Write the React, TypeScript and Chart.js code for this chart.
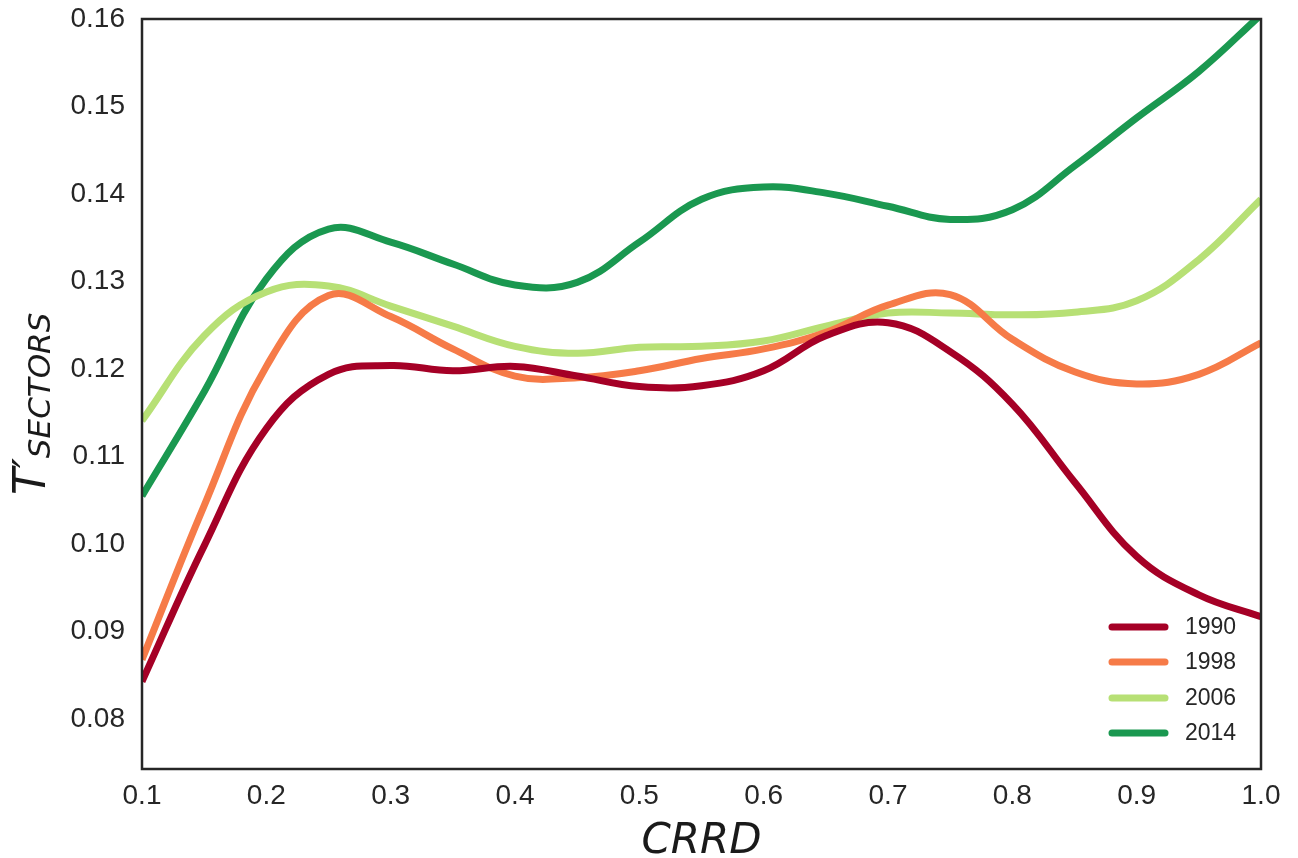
import React, { useEffect, useRef } from "react";
import { Chart, registerables } from "chart.js";

Chart.register(...registerables);

// CRRD sample positions shared by all series
const crrd = [0.1, 0.15, 0.2, 0.25, 0.3, 0.35, 0.4, 0.45, 0.5, 0.55, 0.6, 0.65, 0.7, 0.75, 0.8, 0.85, 0.9, 0.95, 1.0];

// T'_SECTORS per year
const t1990 = [0.0843, 0.0998, 0.1132, 0.1194, 0.1204, 0.1198, 0.1203, 0.1192, 0.118, 0.1181, 0.1198, 0.1238, 0.1253, 0.122, 0.116, 0.1071, 0.0986, 0.0942, 0.0917];
const t1998 = [0.0868, 0.1044, 0.1203, 0.1284, 0.126, 0.1223, 0.1192, 0.119, 0.1198, 0.1212, 0.1223, 0.1242, 0.1273, 0.1285, 0.1234, 0.1197, 0.1183, 0.1194, 0.123];
const t2006 = [0.1141, 0.1238, 0.1288, 0.1295, 0.1272, 0.1249, 0.1226, 0.1218, 0.1225, 0.1226, 0.1232, 0.1249, 0.1264, 0.1264, 0.1262, 0.1265, 0.1278, 0.1325, 0.1394];
const t2014 = [0.1055, 0.1174, 0.1303, 0.136, 0.1345, 0.132, 0.1296, 0.1299, 0.1345, 0.1394, 0.1408, 0.1401, 0.1386, 0.1371, 0.1382, 0.1432, 0.1487, 0.154, 0.1605];

const seriesLabels = ["1990", "1998", "2006", "2014"];
const seriesColors = ["#a50026", "#f67b48", "#b7e075", "#1a9850"];

const xTickValues = [0.1, 0.2, 0.3, 0.4, 0.5, 0.6, 0.7, 0.8, 0.9, 1.0];
const yTickValues = [0.08, 0.09, 0.1, 0.11, 0.12, 0.13, 0.14, 0.15, 0.16];

const TICK_FONT = "'Liberation Sans', Arial, sans-serif";
const MATH_FONT = "'DejaVu Sans', sans-serif";
const TEXT_COLOR = "#262626";

const toPoints = (ys: number[]) => crrd.map((x, i) => ({ x, y: ys[i] }));

// Frame, axis titles and the in-plot legend
const decorations = {
  id: "decorations",
  afterDatasetsDraw(chart: any) {
    const { ctx, chartArea } = chart;
    const { left, right, top, bottom } = chartArea;
    ctx.save();

    // frame around the plot
    ctx.strokeStyle = TEXT_COLOR;
    ctx.lineWidth = 2.5;
    ctx.strokeRect(left, top, right - left, bottom - top);

    // legend
    const legendY = [627, 662, 698, 733];
    ctx.lineCap = "round";
    ctx.lineWidth = 7;
    ctx.font = `23px ${TICK_FONT}`;
    ctx.textBaseline = "middle";
    ctx.textAlign = "left";
    seriesLabels.forEach((lab, i) => {
      ctx.strokeStyle = seriesColors[i];
      ctx.beginPath();
      ctx.moveTo(1112, legendY[i]);
      ctx.lineTo(1165, legendY[i]);
      ctx.stroke();
      ctx.fillStyle = TEXT_COLOR;
      ctx.fillText(lab, 1185, legendY[i] + 1);
    });

    // x axis title
    ctx.fillStyle = "#1a1a1a";
    ctx.font = `oblique 42px ${MATH_FONT}`;
    ctx.textAlign = "center";
    ctx.textBaseline = "alphabetic";
    ctx.fillText("CRRD", (left + right) / 2, 853);

    // y axis title: T' with SECTORS subscript, rotated
    ctx.translate(45, 495);
    ctx.rotate(-Math.PI / 2);
    ctx.textAlign = "left";
    ctx.font = `oblique 44px ${MATH_FONT}`;
    const head = "T\u2032";
    ctx.fillText(head, 0, 0);
    const wHead = ctx.measureText(head).width;
    ctx.font = `oblique 31px ${MATH_FONT}`;
    ctx.fillText("SECTORS", wHead, 5);

    ctx.restore();
  },
};

export default function App() {
  const canvasRef = useRef<HTMLCanvasElement | null>(null);

  useEffect(() => {
    const canvas = canvasRef.current;
    if (!canvas) return;
    const series = [t1990, t1998, t2006, t2014];
    const chart = new Chart(canvas, {
      type: "line",
      data: {
        datasets: seriesLabels.map((lab, i) => ({
          label: lab,
          data: toPoints(series[i]),
          borderColor: seriesColors[i],
          backgroundColor: seriesColors[i],
          borderWidth: 7,
          pointRadius: 0,
          tension: 0.4,
          fill: false,
        })),
      },
      options: {
        responsive: false,
        animation: false,
        events: [],
        layout: { padding: { top: 19, right: 37, left: 0, bottom: 0 } },
        plugins: {
          legend: { display: false },
          tooltip: { enabled: false },
        },
        scales: {
          x: {
            type: "linear",
            min: 0.1,
            max: 1.0,
            grid: { display: false, drawTicks: false },
            border: { display: false },
            afterFit: (s: any) => {
              s.height = 89;
              s.paddingLeft = 0;
              s.paddingRight = 0;
            },
            afterBuildTicks: (s: any) => {
              s.ticks = xTickValues.map((v) => ({ value: v }));
            },
            ticks: {
              autoSkip: false,
              maxRotation: 0,
              padding: 10,
              color: TEXT_COLOR,
              font: { family: TICK_FONT, size: 28 },
              callback: (v: any) => Number(v).toFixed(1),
            },
          },
          y: {
            type: "linear",
            min: 0.0743,
            max: 0.16,
            grid: { display: false, drawTicks: false },
            border: { display: false },
            afterFit: (s: any) => {
              s.width = 142;
              s.paddingTop = 0;
              s.paddingBottom = 0;
            },
            afterBuildTicks: (s: any) => {
              s.ticks = yTickValues.map((v) => ({ value: v }));
            },
            ticks: {
              autoSkip: false,
              padding: 17,
              color: TEXT_COLOR,
              font: { family: TICK_FONT, size: 28 },
              callback: (v: any) => Number(v).toFixed(2),
            },
          },
        },
      },
      plugins: [decorations],
    });
    return () => chart.destroy();
  }, []);

  return (
    <div style={{ position: "fixed", left: 0, top: 0, width: 1298, height: 858, background: "#fff" }}>
      <canvas ref={canvasRef} width={1298} height={858} />
    </div>
  );
}
